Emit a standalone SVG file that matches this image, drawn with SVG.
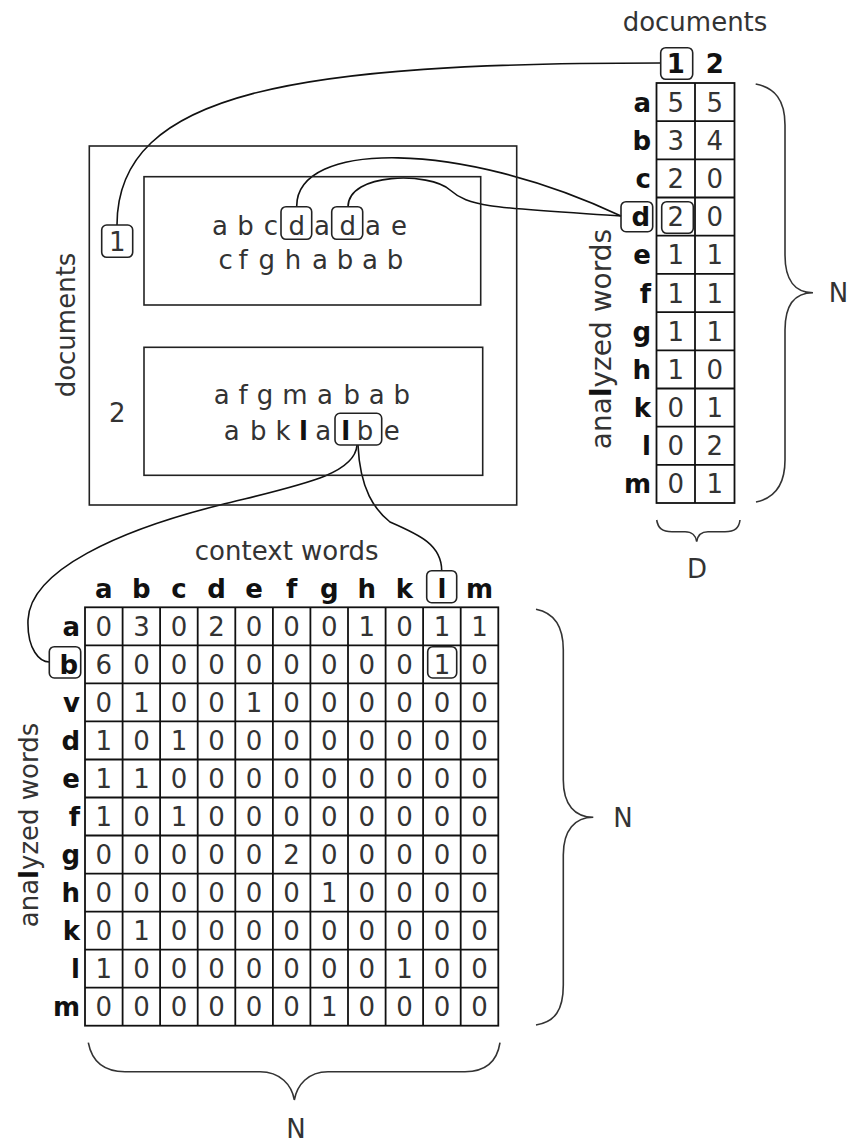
<svg xmlns="http://www.w3.org/2000/svg" width="852" height="1143" viewBox="0 0 852 1143">
<style>
text{font-family:"DejaVu Sans","Liberation Sans",sans-serif;font-size:26px;fill:#333}
.b{font-weight:bold;fill:#111}
.m{text-anchor:middle}
.e{text-anchor:end}
.grid{fill:none;stroke:#111;stroke-width:1.8}
.box{fill:none;stroke:#222;stroke-width:1.6}
.hl{fill:none;stroke:#222;stroke-width:1.6}
.con{fill:none;stroke:#111;stroke-width:1.6}
.br{fill:none;stroke:#333;stroke-width:1.6}
</style>
<rect width="852" height="1143" fill="#fff"/>

<g id="connectors">
<path class="con" d="M661,63 C300,63 117,90 117,225"/>
<path class="con" d="M296.7,206.7 C296,140 460,140 621,216"/>
<path class="con" d="M348,207 C348,172 430,172 450,190 C470,208 500,208 621,216"/>
<path class="con" d="M357,445 C355,475 300,485 220,505 C120,530 30,570 28,620 C27,650 40,662 49.3,662"/>
<path class="con" d="M358,445 C360,490 375,510 390,522 C420,535 441.7,545 441.7,570.7"/>
</g>

<g id="documents-container">
<rect class="box" x="89.3" y="146" width="427.4" height="359"/>
<text class="m" transform="translate(75,325) rotate(-90)">documents</text>
</g>

<g id="doc1">
<rect class="box" x="144" y="176.7" width="336.7" height="128.3"/>
<rect class="hl" x="101.7" y="225" width="31" height="32.3" rx="5"/>
<text class="m" x="117.2" y="250.5">1</text>
<text class="m" x="220 245.5 271 296.7 322 347.7 373 399" y="235">abcdadae</text>
<text class="m" x="225.7 243 266.7 293 320 345 370 395" y="269">cfghabab</text>
<rect class="hl" x="281" y="206.7" width="30.7" height="32.6" rx="5"/>
<rect class="hl" x="331.7" y="206.7" width="31" height="32.6" rx="5"/>
</g>

<g id="doc2">
<rect class="box" x="144" y="347.3" width="338.7" height="128"/>
<text class="m" x="117.3" y="422">2</text>
<text class="m" x="221.7 243 265 295 325 351.7 376.7 401.7" y="404">afgmabab</text>
<text class="m" y="440"><tspan x="231.7 258.3 283">abk</tspan><tspan class="b" x="303.5">l</tspan><tspan x="323.3">a</tspan><tspan class="b" x="345.7">l</tspan><tspan x="365 391.7">be</tspan></text>
<rect class="hl" x="335" y="413.3" width="46.7" height="31.7" rx="5"/>
</g>

<g id="doc-word-matrix">
<text class="m" x="695" y="30.7">documents</text>
<rect class="hl" x="660.7" y="47.7" width="32" height="31.6" rx="5"/>
<text class="m b" x="675.75 714.75" y="73.3">12</text>
<rect class="grid" x="656.5" y="83" width="78" height="420"/>
<path class="grid" d="M695,83V503M656.5,121.2H734.5M656.5,159.4H734.5M656.5,197.5H734.5M656.5,235.7H734.5M656.5,273.9H734.5M656.5,312.1H734.5M656.5,350.3H734.5M656.5,388.5H734.5M656.5,426.6H734.5M656.5,464.8H734.5"/>
<text class="e b" x="651" y="111.6">a</text>
<text class="e b" x="651" y="149.8">b</text>
<text class="e b" x="651" y="187.9">c</text>
<text class="e b" x="650" y="226.1">d</text>
<text class="e b" x="651" y="264.3">e</text>
<text class="e b" x="651" y="302.5">f</text>
<text class="e b" x="651" y="340.7">g</text>
<text class="e b" x="651" y="378.9">h</text>
<text class="e b" x="651" y="417">k</text>
<text class="e b" x="651" y="455.2">l</text>
<text class="e b" x="651" y="493.4">m</text>
<rect class="hl" x="621" y="201.7" width="31.7" height="30" rx="5"/>
<rect class="hl" x="661.7" y="201.7" width="31.6" height="31.6" rx="5"/>
<text class="m" x="675.75 714.75" y="111.6">55</text>
<text class="m" x="675.75 714.75" y="149.8">34</text>
<text class="m" x="675.75 714.75" y="187.9">20</text>
<text class="m" x="675.75 714.75" y="226.1">20</text>
<text class="m" x="675.75 714.75" y="264.3">11</text>
<text class="m" x="675.75 714.75" y="302.5">11</text>
<text class="m" x="675.75 714.75" y="340.7">11</text>
<text class="m" x="675.75 714.75" y="378.9">10</text>
<text class="m" x="675.75 714.75" y="417">01</text>
<text class="m" x="675.75 714.75" y="455.2">02</text>
<text class="m" x="675.75 714.75" y="493.4">01</text>
<text class="m" transform="translate(611,339) rotate(-90)" style="font-size:28px">ana<tspan class="b">l</tspan>yzed words</text>
<path class="br" d="M755.7,84 C775,88 785,100 785,125 V255 C785,280 795,292.7 813,292.7 C795,292.7 785,305 785,330 V460 C785,485 775,498 756,502"/>
<text class="m" x="838.5" y="301.7">N</text>
<path class="br" d="M656.7,520 C658,528 662,531.7 672,531.7 H685 C692,531.7 696,536 696.7,541.7 C697.5,536 701,531.7 708,531.7 H725 C735,531.7 739,528 740,520"/>
<text class="m" x="697" y="578">D</text>
</g>

<g id="word-word-matrix">
<text class="m" x="286.7" y="560">context words</text>
<rect class="hl" x="426.7" y="570.7" width="30" height="32" rx="5"/>
<text class="m b" x="103.8 141.4 178.9 216.5 254.1 291.6 329.2 366.8 404.4 441.9 479.5" y="598">abcdefghklm</text>
<rect class="grid" x="85" y="607.3" width="413.3" height="418.4"/>
<path class="grid" d="M122.6,607.3V1025.7M160.1,607.3V1025.7M197.7,607.3V1025.7M235.3,607.3V1025.7M272.9,607.3V1025.7M310.4,607.3V1025.7M348,607.3V1025.7M385.6,607.3V1025.7M423.1,607.3V1025.7M460.7,607.3V1025.7M85,645.3H498.3M85,683.4H498.3M85,721.4H498.3M85,759.5H498.3M85,797.5H498.3M85,835.5H498.3M85,873.6H498.3M85,911.6H498.3M85,949.7H498.3M85,987.7H498.3"/>
<text class="e b" x="80" y="635.8">a</text>
<text class="e b" x="78" y="673.9">b</text>
<text class="e b" x="80" y="711.9">v</text>
<text class="e b" x="80" y="749.9">d</text>
<text class="e b" x="80" y="788">e</text>
<text class="e b" x="80" y="826">f</text>
<text class="e b" x="80" y="864.1">g</text>
<text class="e b" x="80" y="902.1">h</text>
<text class="e b" x="80" y="940.1">k</text>
<text class="e b" x="80" y="978.2">l</text>
<text class="e b" x="80" y="1016.2">m</text>
<rect class="hl" x="49.3" y="646.7" width="31.4" height="31.3" rx="5"/>
<rect class="hl" x="427.7" y="646.7" width="29" height="31.3" rx="5"/>
<g>
<text class="m" x="103.8 141.4 178.9 216.5 254.1 291.6 329.2 366.8 404.4 441.9 479.5" y="635.8">03020001011</text>
<text class="m" x="103.8 141.4 178.9 216.5 254.1 291.6 329.2 366.8 404.4 441.9 479.5" y="673.9">60000000010</text>
<text class="m" x="103.8 141.4 178.9 216.5 254.1 291.6 329.2 366.8 404.4 441.9 479.5" y="711.9">01001000000</text>
<text class="m" x="103.8 141.4 178.9 216.5 254.1 291.6 329.2 366.8 404.4 441.9 479.5" y="749.9">10100000000</text>
<text class="m" x="103.8 141.4 178.9 216.5 254.1 291.6 329.2 366.8 404.4 441.9 479.5" y="788">11000000000</text>
<text class="m" x="103.8 141.4 178.9 216.5 254.1 291.6 329.2 366.8 404.4 441.9 479.5" y="826">10100000000</text>
<text class="m" x="103.8 141.4 178.9 216.5 254.1 291.6 329.2 366.8 404.4 441.9 479.5" y="864.1">00000200000</text>
<text class="m" x="103.8 141.4 178.9 216.5 254.1 291.6 329.2 366.8 404.4 441.9 479.5" y="902.1">00000010000</text>
<text class="m" x="103.8 141.4 178.9 216.5 254.1 291.6 329.2 366.8 404.4 441.9 479.5" y="940.1">01000000000</text>
<text class="m" x="103.8 141.4 178.9 216.5 254.1 291.6 329.2 366.8 404.4 441.9 479.5" y="978.2">10000000100</text>
<text class="m" x="103.8 141.4 178.9 216.5 254.1 291.6 329.2 366.8 404.4 441.9 479.5" y="1016.2">00000010000</text>
</g>
<text class="m" transform="translate(38,825) rotate(-90)">ana<tspan class="b">l</tspan>yzed words</text>
<path class="br" d="M536,609.3 C555,613 563.3,628 563.3,650 V780 C563.3,805 575,817.3 593.3,817.3 C575,817.3 563.3,830 563.3,855 V985 C563.3,1010 555,1022 536,1025"/>
<text class="m" x="623" y="826.7">N</text>
<path class="br" d="M88.3,1042.7 C92,1062 105,1071.7 125,1071.7 H260 C280,1071.7 292,1085 294.3,1100 C297,1085 308,1071.7 328,1071.7 H465 C485,1071.7 497,1062 500,1042.7"/>
<text class="m" x="296" y="1138">N</text>
</g>
</svg>
